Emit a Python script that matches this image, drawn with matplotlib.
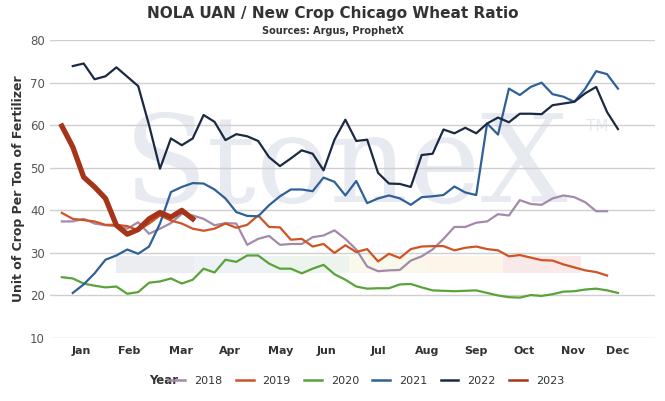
import numpy as np
import matplotlib.pyplot as plt
from matplotlib.lines import Line2D

# weekly values
y2018 = [37.4, 37.4, 38, 36.9, 36.5, 36.3, 35.7, 37.2, 34.5, 35.7, 37, 39.2, 38.8, 38, 36.5, 37, 36.9,
         31.9, 33.3, 34, 31.9, 32.1, 32.1, 33.7, 34.1, 35.3, 33.3, 30.8,
         26.8, 25.7, 25.9, 26, 28.2, 29.2, 30.8, 33.3, 36.1, 36.1, 37.1, 37.4, 39.1, 38.8, 42.4, 41.5,
         41.3, 42.8, 43.5, 43.1, 41.9, 39.8, 39.8]
y2019 = [39.4, 38, 37.7, 37.4, 36.6, 36.6, 36.3, 35.3, 36.9, 38.8, 37.6, 36.9, 35.7, 35.2, 35.7, 36.9,
         35.9, 36.6, 38.8, 36.1, 36, 33.1, 33.3, 31.5, 32.1, 30, 31.8, 30.2,
         30.9, 28, 29.8, 28.8, 30.9, 31.5, 31.6, 31.6, 30.6, 31.2, 31.5, 30.9, 30.6, 29.2, 29.5, 28.9,
         28.3, 28.2, 27.3, 26.6, 25.9, 25.5, 24.7]
y2020 = [24.3, 24, 22.8, 22.3, 21.9, 22.1, 20.4, 20.8, 23, 23.3, 24, 22.8, 23.7, 26.3, 25.4, 28.4,
         27.9, 29.4, 29.4, 27.5, 26.3, 26.3, 25.2, 26.3, 27.2, 25, 23.7, 22.1,
         21.6, 21.7, 21.7, 22.6, 22.7, 21.9, 21.2, 21.1, 21, 21.1, 21.2, 20.6, 20, 19.6, 19.5, 20.1,
         19.9, 20.3, 20.9, 21, 21.4, 21.6, 21.2, 20.6]
y2021 = [20.6, 22.6, 25.2, 28.4, 29.4, 30.8, 29.8, 31.5, 36.9, 44.3, 45.5, 46.4, 46.3, 44.9, 42.8,
         39.6, 38.7, 38.6, 41.2, 43.3, 44.9, 44.9, 44.5, 47.7, 46.7, 43.5, 46.9,
         41.7, 42.8, 43.5, 42.8, 41.3, 43.1, 43.3, 43.6, 45.6, 44.2, 43.6, 60.4, 57.8, 68.6, 67.1, 69,
         70, 67.3, 66.7, 65.5, 68.6, 72.7, 72, 68.6]
y2022 = [73.9, 74.5, 70.8, 71.5, 73.6, 71.4, 69.2, 60, 49.8, 56.9, 55.3, 56.9, 62.4, 60.8, 56.5,
         57.9, 57.4, 56.3, 52.5, 50.4, 52.2, 54.1, 53.3, 49.4, 56.6, 61.3, 56.3,
         56.6, 48.8, 46.3, 46.2, 45.5, 53, 53.3, 59, 58.1, 59.4, 58.1, 60.4, 61.8, 60.7, 62.7, 62.7,
         62.6, 64.7, 65.1, 65.5, 67.5, 69, 63.1, 59.1]
y2023 = [59.8, 54.9, 47.8, 45.5, 42.8, 36.5, 34.4, 35.5, 38, 39.5, 38.4, 40, 38]

months = ['Jan', 'Feb', 'Mar', 'Apr', 'May', 'Jun', 'Jul', 'Aug', 'Sep', 'Oct', 'Nov', 'Dec']
month_pos = [1.8, 6.2, 10.9, 15.4, 20.1, 24.3, 29.0, 33.5, 38.0, 42.4, 46.9, 51.0]

fig = plt.figure(figsize=(6.65, 4.01), dpi=100)
ax = fig.add_axes([0.075, 0.157, 0.91, 0.743])

# watermark (logo behind the lines)
ax.text(0.49, 0.57, 'StoneX', transform=ax.transAxes, ha='center', va='center',
        fontsize=88, family='DejaVu Serif', color='#e7eaf0', zorder=0)
ax.text(0.905, 0.71, 'TM', transform=ax.transAxes, ha='center', va='center',
        fontsize=11, color='#e7eaf0', zorder=0)
band_cols = ['#ebedf0', '#eef2f6', '#edf4ed', '#f9f8ea', '#fdf4ea', '#f9e9e9']
for i, c in enumerate(band_cols):
    ax.fill_between([5.0 + i * 7.1, 5.0 + (i + 1) * 7.1], 25.2, 29.2, color=c, zorder=0, lw=0)

series = [(y2018, 0, '#a38aab', 1.6, '2018'),
          (y2019, 0, '#cf5324', 1.6, '2019'),
          (y2020, 0, '#5aa33a', 1.6, '2020'),
          (y2021, 1, '#2f6098', 1.6, '2021'),
          (y2022, 1, '#1b2a42', 1.6, '2022'),
          (y2023, 0, '#a53419', 3.8, '2023')]
handles = []
for vals, start, col, lw, lab in series:
    ax.plot(np.arange(start, start + len(vals)), vals, color=col, lw=lw, zorder=3)
    handles.append(Line2D([], [], color=col, lw=1.8, label=lab))

ax.set_xlim(-1.1, 54.4)
ax.set_ylim(10, 80)
ax.set_yticks(range(10, 81, 10))
ax.set_xticks(month_pos)
ax.set_xticklabels(months, fontsize=8, fontweight='bold', color='#333333')
ax.tick_params(axis='y', labelsize=8.5, colors='#555555', length=0)
ax.tick_params(axis='x', length=0, pad=6)
ax.grid(axis='y', color='#d0d0d0', lw=1)
for s in ['top', 'right', 'left', 'bottom']:
    ax.spines[s].set_visible(False)
ax.set_ylabel('Unit of Crop Per Ton of Fertilizer', fontsize=9, fontweight='bold', color='#333333')

fig.text(0.5, 0.955, 'NOLA UAN / New Crop Chicago Wheat Ratio', ha='center', fontsize=11,
         fontweight='bold', color='#333333')
fig.text(0.5, 0.915, 'Sources: Argus, ProphetX', ha='center', fontsize=7, fontweight='bold', color='#333333')

fig.text(0.225, 0.05, 'Year', fontsize=8.5, fontweight='bold', color='#333333', va='center')
fig.legend(handles=handles, loc='center', bbox_to_anchor=(0.55, 0.05), ncol=6, frameon=False,
           fontsize=8, handlelength=1.6, columnspacing=1.2, labelcolor='#333333')

fig.savefig('out.png', dpi=100)
